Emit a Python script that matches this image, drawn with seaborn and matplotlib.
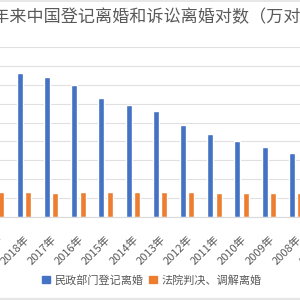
import matplotlib
matplotlib.use("Agg")
import matplotlib.pyplot as plt
import pandas as pd
import seaborn as sns
from matplotlib.patches import Rectangle

# data (万对)
years = ["2019年", "2018年", "2017年", "2016年", "2015年", "2014年", "2013年",
         "2012年", "2011年", "2010年", "2009年", "2008年", "2007年"]
civil_affairs = [404.7, 381.2, 370.4, 348.6, 314.9, 295.7, 281.5,
                 242.3, 220.7, 200.8, 185.6, 170.6, 145.0]
court = [65.4, 64.9, 64.5, 65.5, 67.5, 65.8, 65.5,
         66.1, 64.7, 64.0, 63.6, 63.0, 64.0]
series_names = ["民政部门登记离婚", "法院判决、调解离婚"]
title = "近十年来中国登记离婚和诉讼离婚对数（万对）"

df = pd.DataFrame({
    "year": years * 2,
    "value": civil_affairs + court,
    "series": [series_names[0]] * len(years) + [series_names[1]] * len(years),
})

sns.set_style("white")
plt.rcParams["font.family"] = ["Noto Sans CJK SC", "DejaVu Sans"]

W = 300
fig = plt.figure(figsize=(3, 3), dpi=100)
# axes is wider than the canvas: the screenshot is cropped on both sides
left_px, right_px = -16.8, 336.8
bottom_px, top_px = 83, 253
ax = fig.add_axes([left_px / W, bottom_px / W,
                   (right_px - left_px) / W, (top_px - bottom_px) / W])

sns.barplot(data=df, x="year", y="value", hue="series", order=years,
            hue_order=series_names, palette=["#4472C4", "#ED7D31"],
            width=0.62, gap=0.27, saturation=1, ax=ax, legend=False)

ax.set_xlim(-0.5, len(years) - 0.5)
ax.set_ylim(0, 450)
ax.set_yticks(range(0, 451, 50))
ax.yaxis.grid(True, color="#E0E0E0", linewidth=0.8)
ax.set_axisbelow(True)
for side in ["left", "right", "top"]:
    ax.spines[side].set_visible(False)
ax.spines["bottom"].set_color("#D9D9D9")
ax.spines["bottom"].set_linewidth(0.8)
ax.tick_params(axis="y", left=False, labelleft=False)
ax.tick_params(axis="x", bottom=False, pad=9, labelsize=8, labelcolor="#595959")
for lbl in ax.get_xticklabels():
    lbl.set_rotation(45)
    lbl.set_ha("right")
    lbl.set_rotation_mode("anchor")
ax.set_xlabel("")
ax.set_ylabel("")

fig.text(-42 / W, 1 - 17 / W, title, ha="left", va="center",
         fontsize=12.3, color="#595959")

handles = [Rectangle((0, 0), 1, 1, color=c) for c in ["#4472C4", "#ED7D31"]]
fig.legend(handles, series_names, loc="center", bbox_to_anchor=(152 / W, 1 - 280 / W),
           ncol=2, frameon=False, fontsize=8, labelcolor="#595959",
           handlelength=0.7, handleheight=0.7, handletextpad=0.4, columnspacing=0.5)

# screenshot frame lines
fig.add_artist(plt.Line2D([0, 1], [1 - 0.7 / W, 1 - 0.7 / W], color="#E3E3E3",
                          linewidth=1.2, transform=fig.transFigure))
fig.add_artist(Rectangle((0, 0), 1, 2.5 / W, color="#E6E6E6",
                         transform=fig.transFigure))

fig.savefig("out.png", dpi=100)
